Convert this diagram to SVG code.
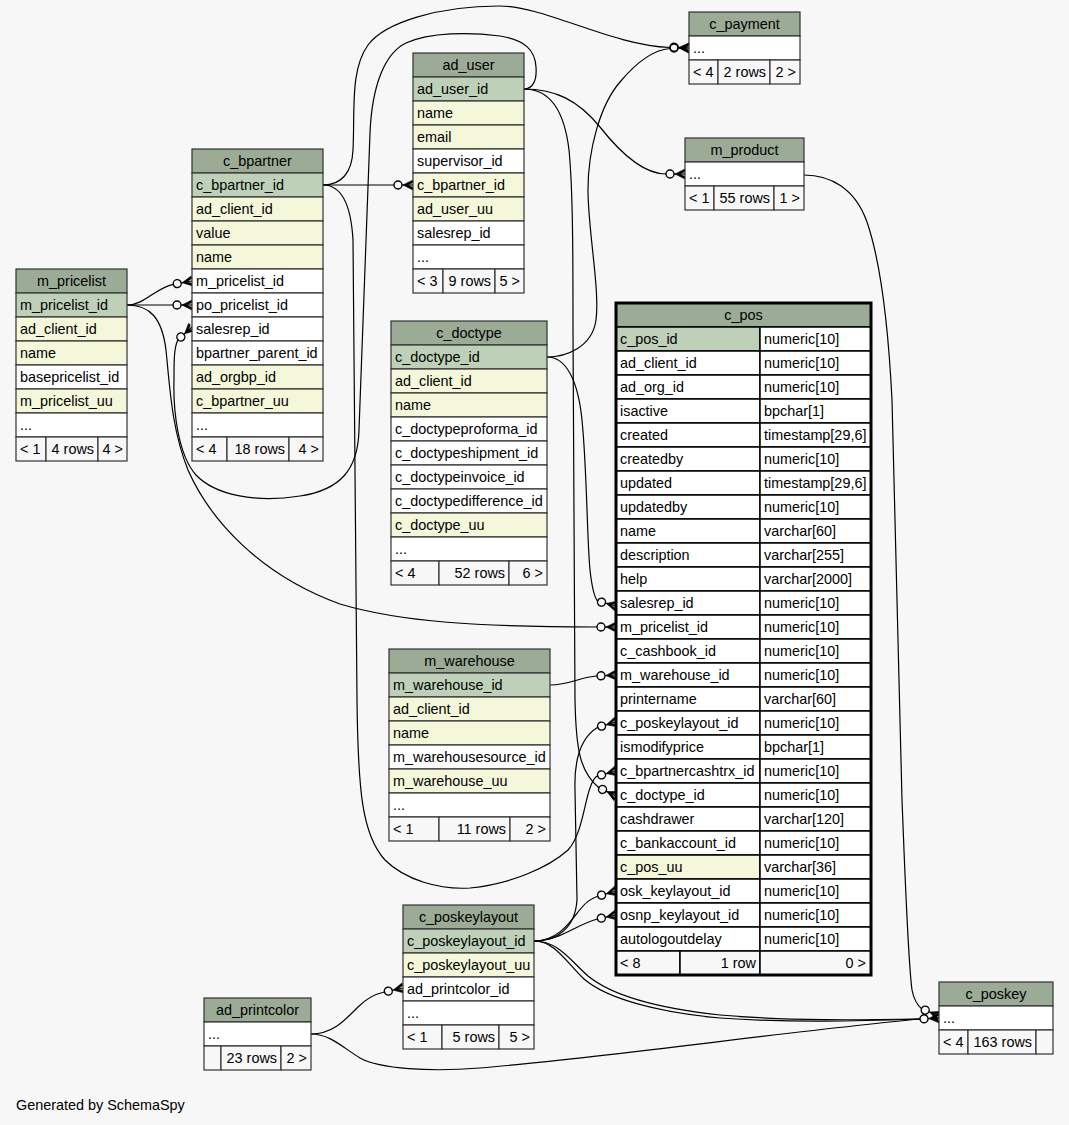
<svg xmlns="http://www.w3.org/2000/svg" xmlns:xlink="http://www.w3.org/1999/xlink" width="1069" height="1125" viewBox="0 0 1069 1125">
<style>
.t{font-family:"Liberation Sans",Arial,Helvetica,sans-serif;font-size:14.4px;fill:#000}
.c{text-anchor:middle}.e{text-anchor:end}
.tb rect{stroke:#333;stroke-width:1.2}
.pos rect{stroke:#000;stroke-width:1.5}
.hd{fill:#9bab96}.pk{fill:#bed1b8}.ix{fill:#f4f7da}.w{fill:#fff}.ft{fill:#f7f7f7}
.ed path{fill:none;stroke:#000;stroke-width:1.2}
</style>
<defs>
<g id="cf">
<circle cx="-15" cy="0" r="4" fill="none" stroke="#000" stroke-width="1.4"/>
<path d="M-11,0 L0,0" stroke="#000" stroke-width="1.2"/>
<polygon points="0,-5 -10,0 0,5 0,2.5 -5.5,0 0,-2.5" fill="#000" stroke="#000" stroke-width="0.6"/>
</g>
</defs>
<rect width="1069" height="1125" fill="#f7f7f7"/>

<g id="connectors" class="ed">
<path d="M323,185 L394,185"/>
<path d="M323,185 C342,185 352,172 353,150 C355,110 350,70 368,45 C385,22 440,6 499,6 C545,6 610,45 670,47.5"/>
<path d="M524,89 C533,89 537,80 536,67 C535,50 525,40 500,36 C470,32 430,32 406,43 C385,53 372,85 370,133 L359,430 C358,470 340,490 300,496 C255,503 215,495 196,475 C178,455 173,410 174,380 C174,360 174,348 177.9,339.7"/>
<path d="M323,185 C342,185 351,205 353,240 L357,700 C358,790 362,835 385,860 C405,880 440,890 470,888 C510,884 548,868 568,850 C582,835 585,800 590,788 C592,782 595,777 597.6,775.9"/>
<path d="M524,89 C555,89 578,100 600,127 C622,155 645,174 666,174"/>
<path d="M524,89 C548,89 564,108 569,150 C573,190 573,260 573,330 L575,700 C576,750 580,772 598.9,787.7"/>
<path d="M547,357 C565,357 592,348 596,320 C600,290 588,230 588,190 C588,150 600,105 620,82 C635,64 652,50 670,48.5"/>
<path d="M547,357 C566,357 578,380 582,420 C587,470 587,540 590,570 C592,588 594,597 597.6,601.1"/>
<path d="M127,305 C145,305 155,288 173.3,284.3"/>
<path d="M127,305 L173,305"/>
<path d="M127,305 C150,305 162,318 166,350 C170,390 172,430 188,470 C210,520 260,575 340,604 C400,622 480,627 597,627"/>
<path d="M550,685 C570,685 580,677 597,676"/>
<path d="M534,941 C555,941 575,930 577,900 L575,790 C574,760 580,738 597.7,727.2"/>
<path d="M534,941 C556,941 568,925 578,912 C586,902 590,899 597.7,896.2"/>
<path d="M534,941 C560,941 575,925 597.4,919"/>
<path d="M534,941 C558,941 570,960 588,976 C610,994 655,1008 720,1015 C790,1021 860,1020 920,1019"/>
<path d="M534,941 C555,941 566,962 584,979 C606,998 655,1012 720,1018 C790,1023 860,1021 920,1019"/>
<path d="M804,175 C830,175 855,188 867,222 C880,260 888,320 892,400 L902,800 C906,900 908,960 912,990 C914,1000 917,1005 921.5,1008.6"/>
<path d="M311,1034 C333,1034 345,1020 358,1007 C367,998 375,994 384.4,992"/>
<path d="M311,1034 C330,1034 342,1047 360,1058 C380,1069 430,1072 480,1068 C600,1058 800,1030 920,1019"/>
<use xlink:href="#cf" transform="translate(413,185)"/>
<use xlink:href="#cf" transform="translate(689,48)"/>
<use xlink:href="#cf" transform="translate(689,48) rotate(3)"/>
<use xlink:href="#cf" transform="translate(192,327) rotate(-42)"/>
<use xlink:href="#cf" transform="translate(616,771) rotate(-15)"/>
<use xlink:href="#cf" transform="translate(685,174)"/>
<use xlink:href="#cf" transform="translate(616,796) rotate(26)"/>
<use xlink:href="#cf" transform="translate(616,606) rotate(15)"/>
<use xlink:href="#cf" transform="translate(192,281) rotate(-10)"/>
<use xlink:href="#cf" transform="translate(192,305)"/>
<use xlink:href="#cf" transform="translate(616,627)"/>
<use xlink:href="#cf" transform="translate(616,675) rotate(-3)"/>
<use xlink:href="#cf" transform="translate(616,722) rotate(-16)"/>
<use xlink:href="#cf" transform="translate(616,891) rotate(-16)"/>
<use xlink:href="#cf" transform="translate(616,915) rotate(-12)"/>
<use xlink:href="#cf" transform="translate(939,1018) rotate(-3)"/>
<use xlink:href="#cf" transform="translate(939,1016) rotate(23)"/>
<use xlink:href="#cf" transform="translate(403,988) rotate(-12)"/>
</g>

<g id="c_payment" class="tb">
<rect class="hd" x="689" y="12" width="111" height="24"/>
<rect class="w" x="689" y="36" width="111" height="24"/>
<rect class="ft" x="689" y="60" width="29" height="24"/><rect class="ft" x="718" y="60" width="52" height="24"/><rect class="ft" x="770" y="60" width="30" height="24"/>
<text class="t c" x="744.5" y="29">c_payment</text>
<text class="t" x="693" y="53">...</text>
<text class="t" x="693" y="77">&lt; 4</text><text class="t e" x="766" y="77">2 rows</text><text class="t e" x="796" y="77">2 &gt;</text>
</g>

<g id="m_product" class="tb">
<rect class="hd" x="685" y="138" width="119" height="24"/>
<rect class="w" x="685" y="162" width="119" height="24"/>
<rect class="ft" x="685" y="186" width="29" height="24"/><rect class="ft" x="714" y="186" width="60" height="24"/><rect class="ft" x="774" y="186" width="30" height="24"/>
<text class="t c" x="744.5" y="155">m_product</text>
<text class="t" x="689" y="179">...</text>
<text class="t" x="689" y="203">&lt; 1</text><text class="t e" x="770" y="203">55 rows</text><text class="t e" x="800" y="203">1 &gt;</text>
</g>

<g id="ad_user" class="tb">
<rect class="hd" x="413" y="53" width="111" height="24"/>
<rect class="pk" x="413" y="77" width="111" height="24"/>
<rect class="ix" x="413" y="101" width="111" height="24"/>
<rect class="ix" x="413" y="125" width="111" height="24"/>
<rect class="w" x="413" y="149" width="111" height="24"/>
<rect class="ix" x="413" y="173" width="111" height="24"/>
<rect class="ix" x="413" y="197" width="111" height="24"/>
<rect class="w" x="413" y="221" width="111" height="24"/>
<rect class="w" x="413" y="245" width="111" height="24"/>
<rect class="ft" x="413" y="269" width="30" height="24"/><rect class="ft" x="443" y="269" width="52" height="24"/><rect class="ft" x="495" y="269" width="29" height="24"/>
<text class="t c" x="468.5" y="70">ad_user</text>
<text class="t" x="417" y="94">ad_user_id</text>
<text class="t" x="417" y="118">name</text>
<text class="t" x="417" y="142">email</text>
<text class="t" x="417" y="166">supervisor_id</text>
<text class="t" x="417" y="190">c_bpartner_id</text>
<text class="t" x="417" y="214">ad_user_uu</text>
<text class="t" x="417" y="238">salesrep_id</text>
<text class="t" x="417" y="262">...</text>
<text class="t" x="417" y="286">&lt; 3</text><text class="t e" x="491" y="286">9 rows</text><text class="t e" x="520" y="286">5 &gt;</text>
</g>

<g id="c_bpartner" class="tb">
<rect class="hd" x="192" y="149" width="131" height="24"/>
<rect class="pk" x="192" y="173" width="131" height="24"/>
<rect class="ix" x="192" y="197" width="131" height="24"/>
<rect class="ix" x="192" y="221" width="131" height="24"/>
<rect class="ix" x="192" y="245" width="131" height="24"/>
<rect class="w" x="192" y="269" width="131" height="24"/>
<rect class="w" x="192" y="293" width="131" height="24"/>
<rect class="w" x="192" y="317" width="131" height="24"/>
<rect class="w" x="192" y="341" width="131" height="24"/>
<rect class="ix" x="192" y="365" width="131" height="24"/>
<rect class="ix" x="192" y="389" width="131" height="24"/>
<rect class="w" x="192" y="413" width="131" height="24"/>
<rect class="ft" x="192" y="437" width="35" height="24"/><rect class="ft" x="227" y="437" width="62" height="24"/><rect class="ft" x="289" y="437" width="34" height="24"/>
<text class="t c" x="257.5" y="166">c_bpartner</text>
<text class="t" x="196" y="190">c_bpartner_id</text>
<text class="t" x="196" y="214">ad_client_id</text>
<text class="t" x="196" y="238">value</text>
<text class="t" x="196" y="262">name</text>
<text class="t" x="196" y="286">m_pricelist_id</text>
<text class="t" x="196" y="310">po_pricelist_id</text>
<text class="t" x="196" y="334">salesrep_id</text>
<text class="t" x="196" y="358">bpartner_parent_id</text>
<text class="t" x="196" y="382">ad_orgbp_id</text>
<text class="t" x="196" y="406">c_bpartner_uu</text>
<text class="t" x="196" y="430">...</text>
<text class="t" x="196" y="454">&lt; 4</text><text class="t e" x="285" y="454">18 rows</text><text class="t e" x="319" y="454">4 &gt;</text>
</g>

<g id="m_pricelist" class="tb">
<rect class="hd" x="16" y="269" width="111" height="24"/>
<rect class="pk" x="16" y="293" width="111" height="24"/>
<rect class="ix" x="16" y="317" width="111" height="24"/>
<rect class="ix" x="16" y="341" width="111" height="24"/>
<rect class="w" x="16" y="365" width="111" height="24"/>
<rect class="ix" x="16" y="389" width="111" height="24"/>
<rect class="w" x="16" y="413" width="111" height="24"/>
<rect class="ft" x="16" y="437" width="30" height="24"/><rect class="ft" x="46" y="437" width="52" height="24"/><rect class="ft" x="98" y="437" width="29" height="24"/>
<text class="t c" x="71.5" y="286">m_pricelist</text>
<text class="t" x="20" y="310">m_pricelist_id</text>
<text class="t" x="20" y="334">ad_client_id</text>
<text class="t" x="20" y="358">name</text>
<text class="t" x="20" y="382">basepricelist_id</text>
<text class="t" x="20" y="406">m_pricelist_uu</text>
<text class="t" x="20" y="430">...</text>
<text class="t" x="20" y="454">&lt; 1</text><text class="t e" x="94" y="454">4 rows</text><text class="t e" x="123" y="454">4 &gt;</text>
</g>

<g id="c_doctype" class="tb">
<rect class="hd" x="391" y="321" width="156" height="24"/>
<rect class="pk" x="391" y="345" width="156" height="24"/>
<rect class="ix" x="391" y="369" width="156" height="24"/>
<rect class="ix" x="391" y="393" width="156" height="24"/>
<rect class="w" x="391" y="417" width="156" height="24"/>
<rect class="w" x="391" y="441" width="156" height="24"/>
<rect class="w" x="391" y="465" width="156" height="24"/>
<rect class="w" x="391" y="489" width="156" height="24"/>
<rect class="ix" x="391" y="513" width="156" height="24"/>
<rect class="w" x="391" y="537" width="156" height="24"/>
<rect class="ft" x="391" y="561" width="48" height="24"/><rect class="ft" x="439" y="561" width="70" height="24"/><rect class="ft" x="509" y="561" width="38" height="24"/>
<text class="t c" x="469" y="338">c_doctype</text>
<text class="t" x="395" y="362">c_doctype_id</text>
<text class="t" x="395" y="386">ad_client_id</text>
<text class="t" x="395" y="410">name</text>
<text class="t" x="395" y="434">c_doctypeproforma_id</text>
<text class="t" x="395" y="458">c_doctypeshipment_id</text>
<text class="t" x="395" y="482">c_doctypeinvoice_id</text>
<text class="t" x="395" y="506">c_doctypedifference_id</text>
<text class="t" x="395" y="530">c_doctype_uu</text>
<text class="t" x="395" y="554">...</text>
<text class="t" x="395" y="578">&lt; 4</text><text class="t e" x="505" y="578">52 rows</text><text class="t e" x="543" y="578">6 &gt;</text>
</g>

<g id="c_pos" class="pos">
<rect class="hd" x="616" y="303" width="255" height="24"/>
<rect class="pk" x="616" y="327" width="144" height="24"/><rect class="w" x="760" y="327" width="111" height="24"/>
<rect class="w" x="616" y="351" width="144" height="24"/><rect class="w" x="760" y="351" width="111" height="24"/>
<rect class="w" x="616" y="375" width="144" height="24"/><rect class="w" x="760" y="375" width="111" height="24"/>
<rect class="w" x="616" y="399" width="144" height="24"/><rect class="w" x="760" y="399" width="111" height="24"/>
<rect class="w" x="616" y="423" width="144" height="24"/><rect class="w" x="760" y="423" width="111" height="24"/>
<rect class="w" x="616" y="447" width="144" height="24"/><rect class="w" x="760" y="447" width="111" height="24"/>
<rect class="w" x="616" y="471" width="144" height="24"/><rect class="w" x="760" y="471" width="111" height="24"/>
<rect class="w" x="616" y="495" width="144" height="24"/><rect class="w" x="760" y="495" width="111" height="24"/>
<rect class="w" x="616" y="519" width="144" height="24"/><rect class="w" x="760" y="519" width="111" height="24"/>
<rect class="w" x="616" y="543" width="144" height="24"/><rect class="w" x="760" y="543" width="111" height="24"/>
<rect class="w" x="616" y="567" width="144" height="24"/><rect class="w" x="760" y="567" width="111" height="24"/>
<rect class="w" x="616" y="591" width="144" height="24"/><rect class="w" x="760" y="591" width="111" height="24"/>
<rect class="w" x="616" y="615" width="144" height="24"/><rect class="w" x="760" y="615" width="111" height="24"/>
<rect class="w" x="616" y="639" width="144" height="24"/><rect class="w" x="760" y="639" width="111" height="24"/>
<rect class="w" x="616" y="663" width="144" height="24"/><rect class="w" x="760" y="663" width="111" height="24"/>
<rect class="w" x="616" y="687" width="144" height="24"/><rect class="w" x="760" y="687" width="111" height="24"/>
<rect class="w" x="616" y="711" width="144" height="24"/><rect class="w" x="760" y="711" width="111" height="24"/>
<rect class="w" x="616" y="735" width="144" height="24"/><rect class="w" x="760" y="735" width="111" height="24"/>
<rect class="w" x="616" y="759" width="144" height="24"/><rect class="w" x="760" y="759" width="111" height="24"/>
<rect class="w" x="616" y="783" width="144" height="24"/><rect class="w" x="760" y="783" width="111" height="24"/>
<rect class="w" x="616" y="807" width="144" height="24"/><rect class="w" x="760" y="807" width="111" height="24"/>
<rect class="w" x="616" y="831" width="144" height="24"/><rect class="w" x="760" y="831" width="111" height="24"/>
<rect class="ix" x="616" y="855" width="144" height="24"/><rect class="w" x="760" y="855" width="111" height="24"/>
<rect class="w" x="616" y="879" width="144" height="24"/><rect class="w" x="760" y="879" width="111" height="24"/>
<rect class="w" x="616" y="903" width="144" height="24"/><rect class="w" x="760" y="903" width="111" height="24"/>
<rect class="w" x="616" y="927" width="144" height="24"/><rect class="w" x="760" y="927" width="111" height="24"/>
<rect class="ft" x="616" y="951" width="64" height="24"/><rect class="ft" x="680" y="951" width="80" height="24"/><rect class="ft" x="760" y="951" width="111" height="24"/>
<rect x="616" y="303" width="255" height="672" fill="none" style="stroke:#000;stroke-width:3"/>
<text class="t c" x="743.5" y="320">c_pos</text>
<text class="t" x="620" y="344">c_pos_id</text><text class="t" x="764" y="344">numeric[10]</text>
<text class="t" x="620" y="368">ad_client_id</text><text class="t" x="764" y="368">numeric[10]</text>
<text class="t" x="620" y="392">ad_org_id</text><text class="t" x="764" y="392">numeric[10]</text>
<text class="t" x="620" y="416">isactive</text><text class="t" x="764" y="416">bpchar[1]</text>
<text class="t" x="620" y="440">created</text><text class="t" x="764" y="440">timestamp[29,6]</text>
<text class="t" x="620" y="464">createdby</text><text class="t" x="764" y="464">numeric[10]</text>
<text class="t" x="620" y="488">updated</text><text class="t" x="764" y="488">timestamp[29,6]</text>
<text class="t" x="620" y="512">updatedby</text><text class="t" x="764" y="512">numeric[10]</text>
<text class="t" x="620" y="536">name</text><text class="t" x="764" y="536">varchar[60]</text>
<text class="t" x="620" y="560">description</text><text class="t" x="764" y="560">varchar[255]</text>
<text class="t" x="620" y="584">help</text><text class="t" x="764" y="584">varchar[2000]</text>
<text class="t" x="620" y="608">salesrep_id</text><text class="t" x="764" y="608">numeric[10]</text>
<text class="t" x="620" y="632">m_pricelist_id</text><text class="t" x="764" y="632">numeric[10]</text>
<text class="t" x="620" y="656">c_cashbook_id</text><text class="t" x="764" y="656">numeric[10]</text>
<text class="t" x="620" y="680">m_warehouse_id</text><text class="t" x="764" y="680">numeric[10]</text>
<text class="t" x="620" y="704">printername</text><text class="t" x="764" y="704">varchar[60]</text>
<text class="t" x="620" y="728">c_poskeylayout_id</text><text class="t" x="764" y="728">numeric[10]</text>
<text class="t" x="620" y="752">ismodifyprice</text><text class="t" x="764" y="752">bpchar[1]</text>
<text class="t" x="620" y="776">c_bpartnercashtrx_id</text><text class="t" x="764" y="776">numeric[10]</text>
<text class="t" x="620" y="800">c_doctype_id</text><text class="t" x="764" y="800">numeric[10]</text>
<text class="t" x="620" y="824">cashdrawer</text><text class="t" x="764" y="824">varchar[120]</text>
<text class="t" x="620" y="848">c_bankaccount_id</text><text class="t" x="764" y="848">numeric[10]</text>
<text class="t" x="620" y="872">c_pos_uu</text><text class="t" x="764" y="872">varchar[36]</text>
<text class="t" x="620" y="896">osk_keylayout_id</text><text class="t" x="764" y="896">numeric[10]</text>
<text class="t" x="620" y="920">osnp_keylayout_id</text><text class="t" x="764" y="920">numeric[10]</text>
<text class="t" x="620" y="944">autologoutdelay</text><text class="t" x="764" y="944">numeric[10]</text>
<text class="t" x="620" y="968">&lt; 8</text><text class="t e" x="756" y="968">1 row</text><text class="t e" x="866" y="968">0 &gt;</text>
</g>

<g id="m_warehouse" class="tb">
<rect class="hd" x="389" y="649" width="161" height="24"/>
<rect class="pk" x="389" y="673" width="161" height="24"/>
<rect class="ix" x="389" y="697" width="161" height="24"/>
<rect class="ix" x="389" y="721" width="161" height="24"/>
<rect class="w" x="389" y="745" width="161" height="24"/>
<rect class="ix" x="389" y="769" width="161" height="24"/>
<rect class="w" x="389" y="793" width="161" height="24"/>
<rect class="ft" x="389" y="817" width="50" height="24"/><rect class="ft" x="439" y="817" width="71" height="24"/><rect class="ft" x="510" y="817" width="40" height="24"/>
<text class="t c" x="469.5" y="666">m_warehouse</text>
<text class="t" x="393" y="690">m_warehouse_id</text>
<text class="t" x="393" y="714">ad_client_id</text>
<text class="t" x="393" y="738">name</text>
<text class="t" x="393" y="762">m_warehousesource_id</text>
<text class="t" x="393" y="786">m_warehouse_uu</text>
<text class="t" x="393" y="810">...</text>
<text class="t" x="393" y="834">&lt; 1</text><text class="t e" x="506" y="834">11 rows</text><text class="t e" x="546" y="834">2 &gt;</text>
</g>

<g id="c_poskeylayout" class="tb">
<rect class="hd" x="403" y="905" width="131" height="24"/>
<rect class="pk" x="403" y="929" width="131" height="24"/>
<rect class="ix" x="403" y="953" width="131" height="24"/>
<rect class="w" x="403" y="977" width="131" height="24"/>
<rect class="w" x="403" y="1001" width="131" height="24"/>
<rect class="ft" x="403" y="1025" width="39" height="24"/><rect class="ft" x="442" y="1025" width="57" height="24"/><rect class="ft" x="499" y="1025" width="35" height="24"/>
<text class="t c" x="468.5" y="922">c_poskeylayout</text>
<text class="t" x="407" y="946">c_poskeylayout_id</text>
<text class="t" x="407" y="970">c_poskeylayout_uu</text>
<text class="t" x="407" y="994">ad_printcolor_id</text>
<text class="t" x="407" y="1018">...</text>
<text class="t" x="407" y="1042">&lt; 1</text><text class="t e" x="495" y="1042">5 rows</text><text class="t e" x="530" y="1042">5 &gt;</text>
</g>

<g id="ad_printcolor" class="tb">
<rect class="hd" x="204" y="998" width="107" height="24"/>
<rect class="w" x="204" y="1022" width="107" height="24"/>
<rect class="ft" x="204" y="1046" width="17" height="24"/><rect class="ft" x="221" y="1046" width="60" height="24"/><rect class="ft" x="281" y="1046" width="30" height="24"/>
<text class="t c" x="257.5" y="1015">ad_printcolor</text>
<text class="t" x="208" y="1039">...</text>
<text class="t e" x="277" y="1063">23 rows</text><text class="t e" x="307" y="1063">2 &gt;</text>
</g>

<g id="c_poskey" class="tb">
<rect class="hd" x="939" y="982" width="114" height="24"/>
<rect class="w" x="939" y="1006" width="114" height="24"/>
<rect class="ft" x="939" y="1030" width="29" height="24"/><rect class="ft" x="968" y="1030" width="68" height="24"/><rect class="ft" x="1036" y="1030" width="17" height="24"/>
<text class="t c" x="996" y="999">c_poskey</text>
<text class="t" x="943" y="1023">...</text>
<text class="t" x="943" y="1047">&lt; 4</text><text class="t e" x="1032" y="1047">163 rows</text>
</g>

<text class="t" x="16" y="1110">Generated by SchemaSpy</text>
</svg>
